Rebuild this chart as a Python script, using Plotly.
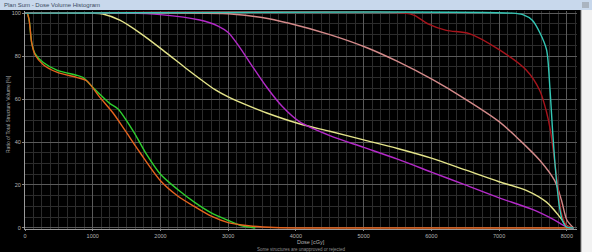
import plotly.graph_objects as go

# ---------------- data ----------------
green_dose = [0, 30, 60, 100, 150, 270, 470, 770, 860, 1000, 1250, 1370, 1600, 1800, 2000, 2250, 2500, 2750, 3000, 3200, 3400]
green_vol = [100, 100, 97, 86, 81, 77, 73.5, 71, 70, 65.5, 58, 55.5, 45, 34, 25, 18, 12, 7, 3.5, 1, 0]

orange_dose = [0, 30, 60, 100, 150, 270, 470, 770, 910, 1100, 1300, 1475, 1700, 2000, 2250, 2500, 2750, 3000, 3300, 3600, 4000, 8100]
orange_vol = [100, 100, 97, 86, 80.5, 76, 72.5, 70, 68.5, 61, 53.5, 45.5, 35, 22, 15, 10, 5.5, 2.5, 1, 0.3, 0, 0]

yellow_dose = [0, 1000, 1150, 1400, 1700, 2035, 2390, 2600, 2800, 3000, 3250, 3570, 4050, 4500, 5000, 5500, 6000, 6500, 7000, 7400, 7700, 7900, 8000, 8100]
yellow_vol = [100, 100, 99.6, 96.7, 90.7, 82.8, 74, 69, 64.5, 61, 57.5, 53.5, 48.5, 45, 41, 37, 32.5, 27, 21.5, 17.5, 12, 5, 1, 0]

magenta_dose = [0, 1500, 2000, 2580, 2850, 3000, 3150, 3320, 3570, 3800, 4050, 4500, 5000, 5500, 6000, 6500, 7000, 7500, 7800, 8000, 8100]
magenta_vol = [100, 100, 99.3, 96.8, 94, 91, 85, 77, 65.5, 56.5, 49.5, 43, 37.5, 32, 26, 20, 14, 8.5, 4, 0.5, 0]

pink_dose = [0, 3000, 3500, 3900, 4500, 5040, 5500, 6020, 6500, 7000, 7300, 7600, 7820, 7920, 8000, 8100]
pink_vol = [100, 99.7, 98, 95.3, 90, 84, 77.5, 69, 60, 49.5, 41, 31.5, 22, 13, 3.7, 0]

darkred_dose = [0, 5600, 5750, 5950, 6220, 6560, 7000, 7400, 7600, 7700, 7760, 7860, 7920, 8000, 8100]
darkred_vol = [100, 100, 99, 95, 92, 90.5, 83, 73.5, 64, 54, 45, 21, 7, 1, 0]

cyan_dose = [0, 7200, 7350, 7490, 7600, 7700, 7750, 7790, 7830, 7890, 7940, 7990, 8100]
cyan_vol = [100, 100, 99.3, 96.7, 91, 83, 65, 45, 28, 10, 3, 0.5, 0]

x_ticks = [0, 1000, 2000, 3000, 4000, 5000, 6000, 7000, 8000]
y_ticks = [0, 20, 40, 60, 80, 100]

series = [
    (green_dose, green_vol, "#2fd02f"),
    (orange_dose, orange_vol, "#e6641e"),
    (yellow_dose, yellow_vol, "#e4e48a"),
    (magenta_dose, magenta_vol, "#b42ac8"),
    (pink_dose, pink_vol, "#d48a8a"),
    (darkred_dose, darkred_vol, "#a8141c"),
    (cyan_dose, cyan_vol, "#34c8b6"),
]

fig = go.Figure()
for d, v, c in series:
    fig.add_trace(go.Scatter(x=d, y=v, mode="lines",
                             line=dict(color=c, width=1.4, shape="spline", smoothing=0.8),
                             showlegend=False, hoverinfo="skip"))

W, H = 592, 252
L, R, T, B = 25, 15, 11, 23
pw, ph = W - L - R, H - T - B

def px(x):
    return (x - L) / pw

def py(y):
    return 1 - (y - T) / ph

font_small = dict(family="Liberation Sans, Arial, sans-serif", size=5.5, color="#b4b4b4")

fig.update_layout(
    width=W, height=H,
    margin=dict(l=L, r=R, t=T, b=B),
    paper_bgcolor="#000000",
    plot_bgcolor="#000000",
    xaxis=dict(range=[0, 8150], tickvals=x_ticks, ticktext=[str(t) for t in x_ticks],
               showgrid=True, gridcolor="#5a5a5a", gridwidth=1,
               minor=dict(dtick=125, tick0=0, showgrid=True, gridcolor="#2c2c2c", gridwidth=1),
               showline=True, linecolor="#9a9a9a", linewidth=1,
               ticks="outside", ticklen=1, tickcolor="#888", tickfont=font_small,
               zeroline=False, fixedrange=True),
    yaxis=dict(range=[-0.5, 101], tickvals=y_ticks, ticktext=[str(t) for t in y_ticks],
               showgrid=True, gridcolor="#5a5a5a", gridwidth=1,
               minor=dict(dtick=5, tick0=0, showgrid=True, gridcolor="#2c2c2c", gridwidth=1),
               showline=True, linecolor="#9a9a9a", linewidth=1,
               ticks="outside", ticklen=2, tickcolor="#888", tickfont=font_small,
               zeroline=False, fixedrange=True),
    shapes=[
        dict(type="rect", xref="paper", yref="paper", x0=px(0), x1=px(W), y0=py(10), y1=py(0),
             fillcolor="#c8d8ec", line=dict(width=0), layer="above"),
        dict(type="rect", xref="paper", yref="paper", x0=px(581), x1=px(W), y0=py(H), y1=py(10),
             fillcolor="#f2f2f2", line=dict(width=0), layer="above"),
        dict(type="line", xref="paper", yref="paper", x0=px(581), x1=px(581), y0=py(H), y1=py(10),
             line=dict(color="#8a8a8a", width=1), layer="above"),
        dict(type="rect", xref="paper", yref="paper", x0=px(582), x1=px(589), y0=py(8), y1=py(2),
             fillcolor="#aab4c0", line=dict(width=0), layer="above"),
    ],
    annotations=[
        dict(text="Plan Sum - Dose Volume Histogram", xref="paper", yref="paper",
             x=px(2), y=py(5), xanchor="left", yanchor="middle", showarrow=False,
             font=dict(family="Liberation Sans, Arial, sans-serif", size=6, color="#3a4a60")),
        dict(text="Ratio of Total Structure Volume [%]", xref="paper", yref="paper",
             x=px(8), y=py(114), xanchor="center", yanchor="middle", textangle=-90, showarrow=False,
             font=dict(family="Liberation Sans, Arial, sans-serif", size=5, color="#a8a8a8")),
        dict(text="Dose [cGy]", xref="paper", yref="paper",
             x=px(295), y=py(242), xanchor="left", yanchor="middle", showarrow=False,
             font=dict(family="Liberation Sans, Arial, sans-serif", size=5.5, color="#b0b0b0")),
        dict(text="Some structures are unapproved or rejected", xref="paper", yref="paper",
             x=px(301), y=py(249.5), xanchor="center", yanchor="middle", showarrow=False,
             font=dict(family="Liberation Sans, Arial, sans-serif", size=4.5, color="#909090")),
    ],
)

fig.write_html("out.html")
